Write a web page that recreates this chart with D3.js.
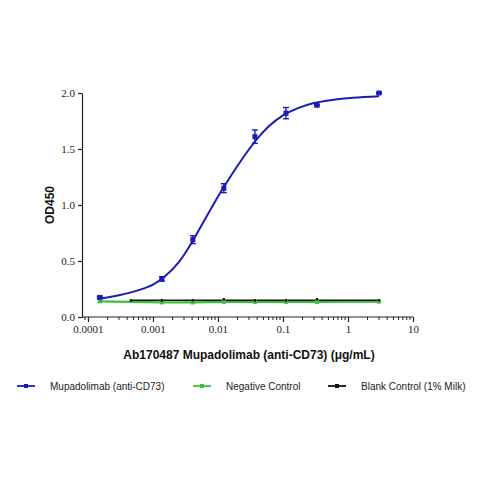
<!DOCTYPE html>
<html>
<head>
<meta charset="utf-8">
<script src="https://cdn.jsdelivr.net/npm/d3@7"></script>
<style>
    body { margin: 0; background: #fff; }
    .axis path, .axis line { stroke: #222; stroke-width: 1.2; }
    .axis text { font-family: "Liberation Serif", "Times New Roman", serif; font-size: 11px; fill: #222; }
    .axisTitle { font-family: "Liberation Sans", Arial, sans-serif; font-weight: bold; font-size: 12px; fill: #111; }
    .legendText { font-family: "Liberation Sans", Arial, sans-serif; font-size: 10px; fill: #222; }
</style>
</head>
<body>
<script>
(function () {

    //concentrations (ug/mL), 3-fold dilution series
    var concBlue = [0.000152, 0.00137, 0.0041, 0.0123, 0.037, 0.111, 0.333, 3];
    var odBlue = [0.175, 0.34, 0.69, 1.15, 1.61, 1.82, 1.89, 2.0];
    var errBlue = [0.01, 0.02, 0.035, 0.04, 0.06, 0.05, 0.005, 0.005];

    //fitted curve for the antibody
    var fitConc = [0.000152, 0.0003, 0.0006, 0.001, 0.0015, 0.0025, 0.004, 0.006, 0.009, 0.0123, 0.018, 0.027, 0.04, 0.06, 0.1, 0.17, 0.3, 0.6, 1.2, 3];
    var fitOd = [0.165, 0.195, 0.24, 0.29, 0.36, 0.49, 0.67, 0.85, 1.03, 1.16, 1.31, 1.46, 1.59, 1.70, 1.80, 1.865, 1.91, 1.94, 1.958, 1.972];

    var concGreen = [0.000152, 0.00137, 0.0041, 0.0123, 0.037, 0.111, 0.333, 3];
    var odGreen = [0.14, 0.13, 0.13, 0.135, 0.135, 0.135, 0.135, 0.138];

    var concBlack = [0.000457, 0.00137, 0.0041, 0.0123, 0.037, 0.111, 0.333, 3];
    var odBlack = [0.148, 0.148, 0.148, 0.158, 0.148, 0.148, 0.158, 0.15];

    var yTicks = [0, 0.5, 1.0, 1.5, 2.0];
    var xTicks = [0.0001, 0.001, 0.01, 0.1, 1, 10];
    var xTickLabels = ["0.0001", "0.001", "0.01", "0.1", "1", "10"];

    var legendNames = ["Mupadolimab (anti-CD73)", "Negative Control", "Blank Control (1% Milk)"];
    var colors = ["#1c1cb4", "#3cc03c", "#111111"];

    window.onload = drawChart();

    function drawChart(){
        var width = 479, height = 479;

        var svg = d3.select("body")
            .append("svg")
            .attr("width", width)
            .attr("height", height);

        //scales
        var x = d3.scaleLog()
            .domain([0.0000809, 10])
            .range([82, 413]);

        var y = d3.scaleLinear()
            .domain([0, 2])
            .range([317, 93]);

        //minor ticks for the log axis
        var minorTicks = [];
        xTicks.slice(0, -1).forEach(function(t){
            for (var k = 2; k <= 9; k++) minorTicks.push(t * k);
        });
        minorTicks.push(0.00009);

        var xAxis = svg.append("g")
            .attr("class", "axis")
            .attr("transform", "translate(0,317)")
            .call(d3.axisBottom(x)
                .tickValues(xTicks)
                .tickFormat(function(d, i){ return xTickLabels[i]; })
                .tickSize(5)
                .tickSizeOuter(0));
        xAxis.select(".domain").attr("d", "M82,0H413");

        svg.append("g")
            .selectAll("line")
            .data(minorTicks)
            .enter()
            .append("line")
            .attr("x1", function(d){ return x(d); })
            .attr("x2", function(d){ return x(d); })
            .attr("y1", 317)
            .attr("y2", 320)
            .attr("stroke", "#222")
            .attr("stroke-width", 1);

        svg.append("g")
            .attr("class", "axis")
            .attr("transform", "translate(82,0)")
            .call(d3.axisLeft(y)
                .tickValues(yTicks)
                .tickFormat(d3.format(".1f"))
                .tickSize(4)
                .tickSizeOuter(0));

        //axis titles
        svg.append("text")
            .attr("class", "axisTitle")
            .attr("transform", "translate(54,205) rotate(-90)")
            .attr("text-anchor", "middle")
            .text("OD450");

        svg.append("text")
            .attr("class", "axisTitle")
            .attr("x", 249)
            .attr("y", 359)
            .attr("text-anchor", "middle")
            .text("Ab170487 Mupadolimab (anti-CD73) (μg/mL)");

        var line = d3.line()
            .x(function(d){ return x(d[0]); })
            .y(function(d){ return y(d[1]); });

        //green and black control lines
        svg.append("path")
            .datum(d3.zip(concGreen, odGreen))
            .attr("d", line)
            .attr("fill", "none")
            .attr("stroke", colors[1])
            .attr("stroke-width", 2.2);

        svg.append("path")
            .datum(d3.zip(concBlack, odBlack.map(function(){ return 0.15; })))
            .attr("d", line)
            .attr("fill", "none")
            .attr("stroke", colors[2])
            .attr("stroke-width", 1.6);

        svg.selectAll(".gPt")
            .data(d3.zip(concGreen, odGreen))
            .enter()
            .append("rect")
            .attr("class", "gPt")
            .attr("x", function(d){ return x(d[0]) - 2; })
            .attr("y", function(d){ return y(d[1]) - 2; })
            .attr("width", 4)
            .attr("height", 4)
            .attr("fill", colors[1]);

        svg.selectAll(".kPt")
            .data(d3.zip(concBlack, odBlack))
            .enter()
            .append("circle")
            .attr("class", "kPt")
            .attr("cx", function(d){ return x(d[0]); })
            .attr("cy", function(d){ return y(d[1]); })
            .attr("r", 1.3)
            .attr("fill", colors[2]);

        //fitted curve
        svg.append("path")
            .datum(d3.zip(fitConc, fitOd))
            .attr("d", line.curve(d3.curveMonotoneX))
            .attr("fill", "none")
            .attr("stroke", colors[0])
            .attr("stroke-width", 2);

        //error bars
        var blue = d3.zip(concBlue, odBlue, errBlue);
        var eb = svg.selectAll(".err")
            .data(blue)
            .enter()
            .append("g")
            .attr("class", "err")
            .attr("stroke", colors[0])
            .attr("stroke-width", 1.4);
        eb.append("line")
            .attr("x1", function(d){ return x(d[0]); })
            .attr("x2", function(d){ return x(d[0]); })
            .attr("y1", function(d){ return y(d[1] - d[2]); })
            .attr("y2", function(d){ return y(d[1] + d[2]); });
        [-1, 1].forEach(function(s){
            eb.append("line")
                .attr("x1", function(d){ return x(d[0]) - 3; })
                .attr("x2", function(d){ return x(d[0]) + 3; })
                .attr("y1", function(d){ return y(d[1] + s * d[2]); })
                .attr("y2", function(d){ return y(d[1] + s * d[2]); });
        });

        svg.selectAll(".bPt")
            .data(blue)
            .enter()
            .append("rect")
            .attr("class", "bPt")
            .attr("x", function(d){ return x(d[0]) - 2.5; })
            .attr("y", function(d){ return y(d[1]) - 2.5; })
            .attr("width", 5)
            .attr("height", 5)
            .attr("fill", colors[0]);

        //legend
        var legendX = [17, 193, 328];
        var legend = svg.selectAll(".legend")
            .data(legendNames)
            .enter()
            .append("g")
            .attr("class", "legend")
            .attr("transform", function(d, i){ return "translate(" + legendX[i] + ",386)"; });
        legend.append("line")
            .attr("x1", 0)
            .attr("x2", 18)
            .attr("stroke", function(d, i){ return colors[i]; })
            .attr("stroke-width", 1.8);
        legend.append("rect")
            .attr("x", 7)
            .attr("y", -2)
            .attr("width", 4)
            .attr("height", 4)
            .attr("fill", function(d, i){ return colors[i]; });
        legend.append("text")
            .attr("class", "legendText")
            .attr("x", 33)
            .attr("y", 3.5)
            .text(function(d){ return d; });
    };

})();
</script>
</body>
</html>
